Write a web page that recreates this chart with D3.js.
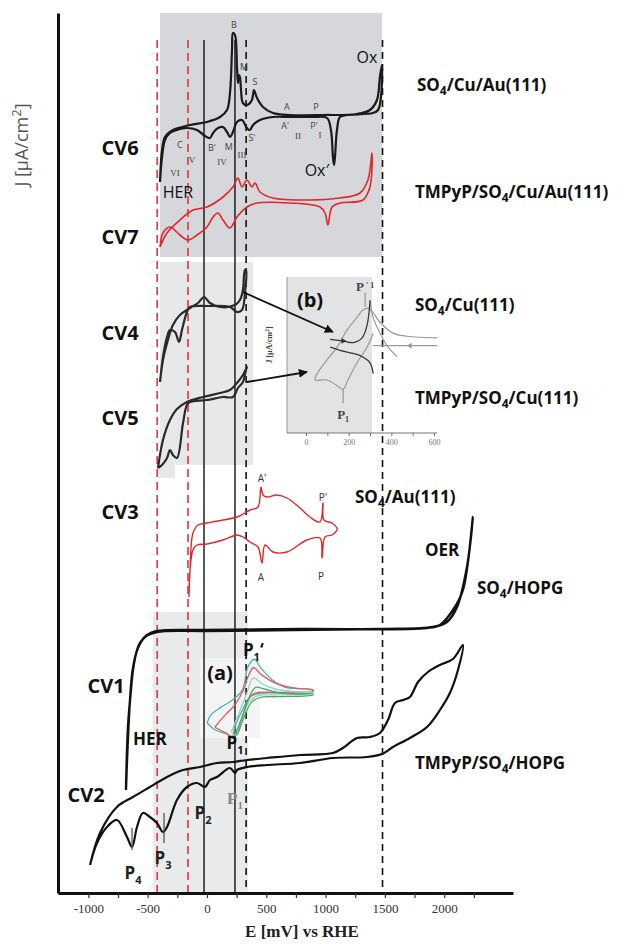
<!DOCTYPE html>
<html>
<head>
<meta charset="utf-8">
<script src="https://cdn.jsdelivr.net/npm/d3@7"></script>
<style>
  body { margin: 0; background: #fff; }
  svg { display: block; }
  text { font-family: "Open Sans", "Liberation Sans", sans-serif; }
</style>
</head>
<body>
<div id="chart"></div>
<script>
// ---------------- data ----------------
// E in mV vs RHE, J in arbitrary units (curves are stacked, offset included)
let xTickValues = [-1000, -750, -500, -250, 0, 250, 500, 750, 1000, 1250, 1500, 1750, 2000, 2250];
let xTickLabels = ["-1000", "", "-500", "", "0", "", "500", "", "1000", "", "1500", "", "2000", ""];

let cv6 = [ // SO4/Cu/Au(111)
  [-396,711],[-379,743],[-354,756],[-287,763],[-143,768],[0,771],[110,776],[169,783],[194,800],[211,843],[219,860],[236,858],[253,826],[261,810],[270,818],[278,816],[287,803],[303,790],[337,788],[379,793],[396,803],[422,795],[472,786],[556,780],[700,778],[978,778],[1265,779],[1374,783],[1433,793],[1458,816],[1475,828],
  [1467,796],[1442,783],[1399,780],[1180,778],[1121,776],[1096,763],[1079,736],[1071,728],[1062,736],[1045,763],[1012,775],[894,776],[700,776],[556,776],[447,773],[388,768],[362,763],[337,765],[295,773],[253,771],[219,761],[194,756],[169,761],[135,766],[93,765],[51,760],[25,755],[-17,757],[-84,763],[-169,765],[-253,763],[-312,760],[-354,753],[-379,736],[-396,711]
];
let cv7 = [ // TMPyP/SO4/Cu/Au(111)
  [-396,646],[-337,660],[-228,673],[-118,683],[0,686],[135,696],[219,706],[261,715],[295,706],[337,713],[379,706],[405,710],[447,701],[556,695],[843,693],[1121,695],[1290,700],[1357,713],[1391,740],
  [1374,706],[1315,693],[1121,690],[1054,686],[1020,668],[995,680],[953,686],[700,690],[422,690],[337,686],[253,676],[194,665],[135,673],[93,680],[51,676],[0,666],[-84,658],[-160,653],[-228,658],[-312,666],[-371,660],[-396,646]
];
let cv4 = [ // SO4/Cu(111)
  [-396,511],[-371,533],[-329,553],[-287,568],[-228,578],[-143,585],[-76,590],[-25,596],[25,590],[110,586],[236,588],[278,593],[303,603],[320,623],
  [329,623],[320,600],[295,583],[253,581],[194,586],[0,587],[-143,586],[-169,581],[-211,563],[-236,551],[-270,561],[-312,563],[-337,556],[-371,536],[-396,511]
];
let cv5 = [ // TMPyP/SO4/Cu(111)
  [-413,425],[-371,453],[-312,473],[-253,484],[-169,491],[-34,496],[110,500],[194,503],[253,510],[303,518],[337,526],
  [329,523],[303,511],[261,505],[219,496],[135,496],[0,493],[-143,491],[-169,488],[-202,470],[-253,435],[-287,438],[-312,443],[-337,435],[-379,428],[-413,425]
];
let cv3 = [ // SO4/Au(111)
  [-152,296],[-143,323],[-118,360],[-76,368],[0,370],[135,373],[253,376],[320,380],[362,383],[430,386],[455,406],[472,398],[506,396],[590,398],[674,395],[784,385],[868,376],[953,371],[978,390],[986,373],[1054,370],[1096,365],
  [1096,363],[1054,358],[995,356],[970,335],[953,355],[843,353],[674,341],[556,341],[489,348],[464,330],[430,346],[362,351],[303,356],[253,358],[135,353],[0,349],[-84,348],[-118,343],[-143,323],[-152,296]
];
let cv1 = [ // SO4/HOPG
  [-683,103],[-666,166],[-641,203],[-624,223],[-590,243],[-565,250],[-506,258],[-422,262],[0,263],[784,264],[1855,265],[1964,268],[2074,283],[2158,303],[2242,376],
  [2192,326],[2108,286],[2023,271],[1905,266],[1458,264],[0,262],[-422,261],[-523,256],[-582,245],[-624,225],[-649,193],[-674,133],[-683,103]
];
let cv2 = [ // TMPyP/SO4/HOPG
  [-986,28],[-902,60],[-759,86],[-624,96],[-481,106],[-337,116],[-202,123],[-59,126],[84,130],[219,131],[337,133],[506,135],[784,138],[1062,140],[1146,145],[1265,155],[1374,156],[1458,160],[1526,173],[1585,190],[1652,193],[1711,196],[1779,211],[1863,221],[1964,228],[2074,234],[2158,248],
  [2116,223],[2048,200],[1964,183],[1855,166],[1711,155],[1568,146],[1475,139],[1349,136],[1062,135],[784,130],[506,128],[337,126],[253,123],[236,120],[194,125],[84,116],[25,113],[-17,106],[-84,110],[-169,106],[-253,93],[-337,66],[-371,61],[-422,70],[-481,76],[-540,80],[-590,66],[-632,46],[-674,56],[-759,73],[-843,66],[-927,50],[-986,28]
];

// reference potentials (mV)
let refRed = [-420, -160];
let refSolid = [-25, 236];
let refDashed = [330, 1480];

// inset (a): normalised units
let insetA = [
  [[2,20],[5,29],[15,39],[25,47],[34,59],[39,86],[45,95],[50,86],[61,71],[73,62],[98,59],[98,56],[73,55],[52,55],[41,51],[34,35],[27,15],[25,4],[18,8],[9,12],[2,20]],
  [[9,15],[18,29],[27,41],[35,59],[39,74],[44,85],[52,76],[64,67],[82,61],[98,59],[98,58],[66,56],[45,55],[39,47],[34,27],[26,4],[18,9],[9,15]],
  [[24,10],[32,35],[38,55],[44,73],[52,66],[64,60],[82,57],[98,56],[98,55],[66,53],[48,52],[40,45],[32,20],[27,6],[24,10]],
  [[28,8],[36,35],[40,50],[46,62],[54,60],[66,56],[82,54],[98,54],[98,53],[66,51],[50,50],[42,44],[34,22],[29,6],[28,8]]
];
let insetAColors = ["#4db0ad", "#e05a5f", "#8fd3cc", "#4aa864"];

// inset (b): E 0..600 mV, J arbitrary
let insetBTicks = [0, 100, 200, 300, 400, 500, 600];
let insetBDark = [
  [[113,60],[174,59],[221,58],[263,61],[286,69],[296,78],[300,85]],
  [[113,55],[160,53],[221,51],[263,49],[300,45],[315,38]]
];
let insetBGray = [
  [[615,61],[474,62],[408,64],[347,71],[315,77],[291,80],[268,79],[239,74],[192,66],[146,55],[99,47],[52,38],[42,34],[99,34],[160,29],[174,28],[197,34],[239,45],[286,55],[315,64]],
  [[300,85],[315,74],[347,64],[385,55],[427,49]],
  [[615,56],[315,56]]
];

// ---------------- drawing ----------------
let sizes = { width: 630, height: 944 };

function draw() {
  let x = d3.scaleLinear().domain([-1256, 2580]).range([58, 513]);
  let y = d3.scaleLinear().domain([0, 880]).range([893, 13]);

  let svg = d3.select("#chart")
    .append("svg")
    .attr("width", sizes.width)
    .attr("height", sizes.height);

  svg.append("defs").append("marker")
    .attr("id", "arrow")
    .attr("viewBox", "0 0 10 10")
    .attr("refX", 9).attr("refY", 5)
    .attr("markerWidth", 5).attr("markerHeight", 5)
    .attr("orient", "auto")
    .append("path")
    .attr("d", "M0,0 L10,5 L0,10 z")
    .attr("fill", "#111");

  function shade(e0, e1, j0, j1, fill) {
    svg.append("rect")
      .attr("x", x(e0)).attr("y", y(j1))
      .attr("width", x(e1) - x(e0)).attr("height", y(j0) - y(j1))
      .attr("fill", fill);
  }

  /* ------------------ background panels ----------------- */
  shade(-396, 1475, 636, 880, "#d5d7da");
  shade(-396, 388, 428, 631, "#e7e8ea");
  shade(-413, -270, 415, 428, "#e7e8ea");
  shade(-455, 346, 0, 281, "#e9eaec");
  shade(-59, 447, 155, 235, "#f4f4f4");

  // inset (b) frame
  let ib = { left: 287, right: 437, shadeRight: 372, top: 277, bottom: 433 };
  svg.append("rect")
    .attr("x", ib.left).attr("y", ib.top)
    .attr("width", ib.shadeRight - ib.left).attr("height", ib.bottom - ib.top)
    .attr("fill", "#e2e3e5");

  /* ------------------ reference lines ----------------- */
  function vline(e, color, dash, w) {
    svg.append("line")
      .attr("x1", x(e)).attr("x2", x(e))
      .attr("y1", y(853)).attr("y2", y(0))
      .attr("stroke", color)
      .attr("stroke-width", w)
      .attr("stroke-dasharray", dash);
  }
  refRed.forEach(e => vline(e, "#e0363b", "8,5", 1.6));
  refSolid.forEach(e => vline(e, "#111", null, 1.4));
  refDashed.forEach(e => vline(e, "#111", "7,5", 1.6));

  /* ------------------ axes ----------------- */
  let xAxis = d3.axisBottom(x)
    .tickValues(xTickValues)
    .tickFormat((d, i) => xTickLabels[i])
    .tickSize(5)
    .tickSizeOuter(0)
    .tickPadding(6);
  let gx = svg.append("g")
    .attr("transform", "translate(0," + y(0) + ")")
    .call(xAxis);
  gx.select(".domain").attr("stroke", "#111").attr("stroke-width", 3);
  gx.selectAll(".tick line").attr("stroke", "#333").attr("stroke-width", 1.2);
  gx.selectAll(".tick text")
    .style("font-family", "'Liberation Serif', 'DejaVu Serif', serif")
    .style("font-size", "13px")
    .attr("fill", "#333");

  let gy = svg.append("g")
    .attr("transform", "translate(" + x(-1256) + ",0)")
    .call(d3.axisLeft(y).tickValues([]).tickSizeOuter(0));
  gy.select(".domain").attr("stroke", "#111").attr("stroke-width", 3);

  svg.append("text")
    .attr("x", 302).attr("y", 937)
    .attr("text-anchor", "middle")
    .style("font-family", "'Liberation Serif', serif")
    .style("font-weight", "bold")
    .style("font-size", "17px")
    .attr("fill", "#222")
    .text("E [mV] vs RHE");

  svg.append("text")
    .attr("transform", "translate(28,145) rotate(-90)")
    .attr("text-anchor", "middle")
    .style("font-size", "18px")
    .attr("fill", "#555")
    .html('J [\u00b5A/cm<tspan dy="-7" font-size="13">2</tspan><tspan dy="7">]</tspan>');

  /* ------------------ CV curves ----------------- */
  let line = d3.line()
    .x(d => x(d[0]))
    .y(d => y(d[1]))
    .curve(d3.curveCatmullRom.alpha(0.5));

  let curves = [
    { d: cv6, c: "#1a1a1a", w: 2.2 },
    { d: cv7, c: "#e3262b", w: 1.6 },
    { d: cv4, c: "#2a2a2a", w: 2.2 },
    { d: cv5, c: "#2a2a2a", w: 2.2 },
    { d: cv3, c: "#e3262b", w: 1.4 },
    { d: cv1, c: "#111", w: 2.4 },
    { d: cv2, c: "#111", w: 2.2 }
  ];
  svg.selectAll("path.cv")
    .data(curves)
    .enter()
    .append("path")
    .attr("class", "cv")
    .attr("d", d => line(d.d))
    .attr("fill", "none")
    .attr("stroke", d => d.c)
    .attr("stroke-width", d => d.w)
    .attr("stroke-linejoin", "round");

  /* ------------------ inset (a) ----------------- */
  let xa = d3.scaleLinear().domain([0, 100]).range([205, 315]);
  let ya = d3.scaleLinear().domain([0, 100]).range([740, 655]);
  let lineA = d3.line().x(d => xa(d[0])).y(d => ya(d[1])).curve(d3.curveCatmullRom.alpha(0.5));
  svg.selectAll("path.insa")
    .data(insetA)
    .enter()
    .append("path")
    .attr("d", lineA)
    .attr("fill", "none")
    .attr("stroke", (d, i) => insetAColors[i])
    .attr("stroke-width", 1.3);

  /* ------------------ inset (b) ----------------- */
  let xb = d3.scaleLinear().domain([0, 600]).range([306, 434]);
  let yb = d3.scaleLinear().domain([0, 100]).range([433, 277]);
  let lineB = d3.line().x(d => xb(d[0])).y(d => yb(d[1])).curve(d3.curveCatmullRom.alpha(0.5));

  svg.append("line")
    .attr("x1", ib.left).attr("x2", ib.left)
    .attr("y1", ib.top).attr("y2", ib.bottom)
    .attr("stroke", "#999").attr("stroke-width", 1);
  let gxb = svg.append("g")
    .attr("transform", "translate(0," + ib.bottom + ")")
    .call(d3.axisBottom(xb).tickValues(insetBTicks).tickSize(3).tickSizeOuter(0)
      .tickFormat(d => d % 200 === 0 ? d : ""));
  gxb.select(".domain").attr("d", "M" + ib.left + ",0H" + ib.right).attr("stroke", "#777").attr("stroke-width", 1.2);
  gxb.selectAll(".tick line").attr("stroke", "#777");
  gxb.selectAll(".tick text")
    .style("font-family", "'Liberation Serif', serif")
    .style("font-size", "8px")
    .attr("fill", "#777");

  svg.selectAll("path.insbg")
    .data(insetBGray)
    .enter()
    .append("path")
    .attr("d", lineB)
    .attr("fill", "none")
    .attr("stroke", "#9a9a9a")
    .attr("stroke-width", 1.2);
  svg.selectAll("path.insbd")
    .data(insetBDark)
    .enter()
    .append("path")
    .attr("d", lineB)
    .attr("fill", "none")
    .attr("stroke", "#3a3a3a")
    .attr("stroke-width", 1.3);

  let tri = d3.symbol().type(d3.symbolTriangle).size(14);
  svg.append("path").attr("d", tri)
    .attr("transform", "translate(" + xb(174) + "," + yb(59) + ") rotate(90)").attr("fill", "#333");
  svg.append("path").attr("d", tri)
    .attr("transform", "translate(" + xb(488) + "," + yb(56) + ") rotate(-90)").attr("fill", "#999");

  // peak ticks in inset (b)
  svg.append("line").attr("x1", xb(277)).attr("x2", xb(277)).attr("y1", yb(90)).attr("y2", yb(81))
    .attr("stroke", "#888").attr("stroke-width", 1);
  svg.append("line").attr("x1", xb(174)).attr("x2", xb(174)).attr("y1", yb(28)).attr("y2", yb(19))
    .attr("stroke", "#888").attr("stroke-width", 1);

  svg.append("text")
    .attr("x", xb(277)).attr("y", yb(94)).attr("dy", "0.35em")
    .attr("text-anchor", "middle")
    .style("font-family", "'Liberation Serif', serif").style("font-weight", "bold").style("font-size", "13px")
    .attr("fill", "#444")
    .html('P<tspan dx="2" dy="-3" font-size="8">\' 1</tspan>');
  svg.append("text")
    .attr("x", xb(174)).attr("y", yb(12)).attr("dy", "0.35em")
    .attr("text-anchor", "middle")
    .style("font-family", "'Liberation Serif', serif").style("font-weight", "bold").style("font-size", "13px")
    .attr("fill", "#444")
    .html('P<tspan dy="3" font-size="8">1</tspan>');
  svg.append("text")
    .attr("transform", "translate(272,345) rotate(-90)")
    .attr("text-anchor", "middle")
    .style("font-family", "'Liberation Serif', serif").style("font-weight", "bold").style("font-size", "8px")
    .attr("fill", "#444")
    .html('J [\u00b5A/cm<tspan dy="-3" font-size="6">2</tspan><tspan dy="3">]</tspan>');
  svg.append("text")
    .attr("x", 310).attr("y", 307)
    .attr("text-anchor", "middle")
    .style("font-weight", "bold").style("font-size", "20px")
    .attr("fill", "#111")
    .text("(b)");

  /* ------------------ arrows CV4/CV5 -> inset ----------------- */
  let arrows = [[[303, 601], [1062, 561]], [[337, 511], [843, 521]]];
  arrows.forEach(a => {
    svg.append("line")
      .attr("x1", x(a[0][0])).attr("y1", y(a[0][1]))
      .attr("x2", x(a[1][0])).attr("y2", y(a[1][1]))
      .attr("stroke", "#111").attr("stroke-width", 1.8)
      .attr("marker-end", "url(#arrow)");
  });

  /* ------------------ labels ----------------- */
  function label(txt, e, j, opt) {
    let t = svg.append("text")
      .attr("x", x(e)).attr("y", y(j)).attr("dy", "0.35em")
      .attr("text-anchor", opt.anchor || "middle")
      .style("font-size", opt.size + "px")
      .style("font-weight", opt.weight || "normal")
      .attr("fill", opt.color || "#111");
    if (opt.serif) t.style("font-family", "'Liberation Serif', serif");
    t.html(txt);
    return t;
  }
  function sub(s, n) {
    return s.replace(/SO4/g, 'SO<tspan dy="4" font-size="' + n + '">4</tspan><tspan dy="-4">') + (s.indexOf("SO4") >= 0 ? '</tspan>' : '');
  }

  let cvLabels = [["CV6", -733, 745], ["CV7", -733, 656], ["CV4", -733, 560], ["CV5", -733, 475], ["CV3", -733, 381], ["CV1", -851, 207], ["CV2", -1020, 98]];
  cvLabels.forEach(l => label(l[0], l[1], l[2], { size: 20, weight: "bold" }));

  let sampleLabels = [["SO4/Cu/Au(111)", 1770, 808], ["TMPyP/SO4/Cu/Au(111)", 1753, 701], ["SO4/Cu(111)", 1753, 588], ["TMPyP/SO4/Cu(111)", 1753, 495],
    ["SO4/Au(111)", 1248, 396], ["SO4/HOPG", 2276, 305], ["TMPyP/SO4/HOPG", 1753, 130]];
  sampleLabels.forEach(l => label(sub(l[0], 12), l[1], l[2], { size: 17, weight: "bold", anchor: "start" }));
  label("OER", 1838, 343, { size: 17, weight: "bold", anchor: "start" });

  let cv6Peaks = [["B", 228, 868], ["M", 312, 826], ["S", 405, 811], ["A", 674, 786], ["P", 919, 786], ["A'", 658, 767], ["P'", 902, 767], ["S'", 379, 755], ["C", -228, 748], ["B'", 42, 745], ["M", 185, 746]];
  cv6Peaks.forEach(l => label(l[0], l[1], l[2], { size: 9, color: "#444" }));
  let cv6Regions = [["II", 767, 757], ["I", 953, 758], ["V", -126, 733], ["IV", 126, 731], ["III", 295, 738], ["VI", -270, 720]];
  cv6Regions.forEach(l => label(l[0], l[1], l[2], { size: 9, color: "#444", serif: true }));
  label("HER", -245, 701, { size: 16 });
  label("Ox", 1349, 836, { size: 16 });
  label("Ox\u2032", 927, 723, { size: 16 });

  let cv3Peaks = [["A'", 464, 415], ["P'", 978, 396], ["A", 455, 316], ["P", 961, 317]];
  cv3Peaks.forEach(l => label(l[0], l[1], l[2], { size: 10, color: "#333" }));

  label("HER", -481, 154, { size: 17, weight: "bold" });
  label("(a)", 110, 220, { size: 20, weight: "bold" });
  label('P<tspan dy="5" font-size="11">1</tspan><tspan dy="-5">\u2018</tspan>', 390, 243, { size: 17, weight: "bold" });
  label('P<tspan dy="5" font-size="11">1</tspan>', 236, 150, { size: 17, weight: "bold" });

  // CV2 peak markers
  let cv2Ticks = [[-632, 43, 65], [-362, 50, 80]];
  cv2Ticks.forEach(t => {
    svg.append("line")
      .attr("x1", x(t[0])).attr("x2", x(t[0]))
      .attr("y1", y(t[2])).attr("y2", y(t[1]))
      .attr("stroke", "#555").attr("stroke-width", 1.3);
  });
  label('P<tspan dy="5" font-size="11">4</tspan>', -624, 20, { size: 17, weight: "bold", color: "#222" });
  label('P<tspan dy="5" font-size="11">3</tspan>', -371, 35, { size: 17, weight: "bold", color: "#222" });
  label('P<tspan dy="5" font-size="11">2</tspan>', -34, 80, { size: 17, weight: "bold", color: "#222" });
  label('P<tspan dy="5" font-size="11">1</tspan>', 236, 95, { size: 17, weight: "bold", color: "#888", serif: true });
}

draw();
</script>
</body>
</html>
